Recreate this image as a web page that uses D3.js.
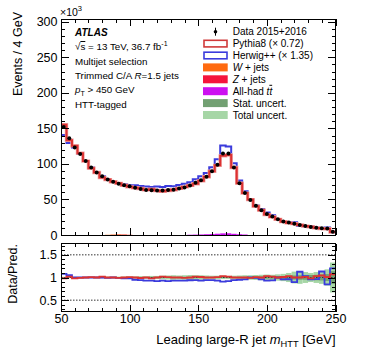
<!DOCTYPE html>
<html>
<head>
<meta charset="utf-8">
<script src="https://cdn.jsdelivr.net/npm/d3@7"></script>
<style>
  body { margin: 0; background: #fff; }
  svg text { font-family: "Liberation Sans", Arial, Helvetica, sans-serif; fill: #000; }
</style>
</head>
<body>
<svg id="chart" width="374" height="359"></svg>
<script>
// bins of 4 GeV from 50 to 250
const binLow = d3.range(50, 250, 4);

// events / 4 GeV, in units of 10^3
const dataVals = [152, 136, 123, 114, 104, 95, 88, 82.6, 78, 75, 72, 70, 68.5, 66.5, 64.7, 63.5, 63, 62.7, 62.7, 63.3,
  63.7, 65.6, 67, 69.8, 73.6, 77, 82, 89.7, 99, 114.7, 114.7, 95, 73, 59, 49.3, 41, 35, 29.6, 26, 22,
  19, 17.5, 16, 14.2, 12.7, 11.3, 10.3, 9.4, 9, 4.5];
const pythiaVals = [155.1, 133.3, 125.5, 115.2, 104, 94.1, 88, 81, 78, 75, 72.7, 70, 67.8, 66.5, 65.4, 63.5, 64.3, 62.7, 61.5, 62.7,
  63.7, 65.6, 67.7, 69.8, 72.2, 76.2, 82, 89.7, 98, 111.4, 112.5, 95, 73, 59, 49.8, 40.6, 35, 28.7, 25.5, 22,
  18.8, 17, 16, 14.2, 12.5, 11.5, 10, 9, 8.9, 4.2];
const herwigVals = [140.7, 129.5, 123, 114, 104, 95, 88, 82.6, 78.8, 75, 72.7, 71.4, 69.9, 70, 68.8, 68.3, 67.7, 68.2, 67.4, 68.8,
  68.5, 70.5, 72, 74.3, 78.3, 82.8, 87.2, 95.4, 106.5, 126, 124.7, 101, 76.8, 61.5, 49.3, 41.4, 36.5, 31.8, 27.7, 22,
  19.8, 18.2, 17.8, 12.6, 12.3, 11.8, 10.7, 8.3, 10.6, 3.75];
const wjetsVals = [0, 0, 0, 0, 0, 0, 0, 0, 0.3, 0.6, 0.8, 0.5, 0.2, 0, 0, 0, 0, 0, 0, 0,
  0, 0, 0, 0, 0, 0, 0, 0, 0, 0, 0, 0, 0, 0, 0, 0, 0, 0, 0, 0,
  0, 0, 0, 0, 0, 0, 0, 0, 0, 0];
const zjetsVals = [0, 0, 0, 0, 0, 0, 0, 0, 0, 0.1, 0.3, 0.4, 0.2, 0, 0, 0, 0, 0, 0, 0,
  0, 0, 0, 0, 0, 0, 0, 0, 0, 0, 0, 0, 0, 0, 0, 0, 0, 0, 0, 0,
  0, 0, 0, 0, 0, 0, 0, 0, 0, 0];
const ttbarVals = [0, 0, 0, 0, 0, 0, 0, 0, 0, 0, 0, 0, 0, 0, 0, 0, 0, 0, 0, 0,
  0, 0, 0, 0.4, 0.6, 0.8, 1.1, 1.4, 1.8, 2.3, 2.4, 1.7, 1.1, 0.7, 0, 0, 0, 0, 0, 0,
  0, 0, 0, 0, 0, 0, 0, 0, 0, 0];
// relative uncertainties shown in the ratio panel
const statUnc = [0.006, 0.006, 0.006, 0.006, 0.007, 0.007, 0.007, 0.008, 0.008, 0.008, 0.009, 0.009, 0.01, 0.01, 0.011, 0.011, 0.012, 0.012, 0.013, 0.013,
  0.014, 0.014, 0.015, 0.015, 0.015, 0.014, 0.013, 0.012, 0.011, 0.01, 0.01, 0.011, 0.013, 0.015, 0.017, 0.019, 0.021, 0.024, 0.026, 0.029,
  0.032, 0.035, 0.045, 0.05, 0.05, 0.055, 0.06, 0.065, 0.075, 0.14];
const totalUnc = [0.015, 0.015, 0.015, 0.015, 0.015, 0.015, 0.018, 0.018, 0.02, 0.02, 0.02, 0.022, 0.025, 0.025, 0.03, 0.03, 0.035, 0.035, 0.04, 0.045,
  0.05, 0.045, 0.05, 0.055, 0.05, 0.05, 0.045, 0.04, 0.04, 0.035, 0.035, 0.04, 0.045, 0.05, 0.05, 0.055, 0.06, 0.065, 0.06, 0.07,
  0.08, 0.1, 0.13, 0.14, 0.12, 0.1, 0.12, 0.14, 0.18, 0.33];

const xTicks = [50, 100, 150, 200, 250];
const yTicksMain = [0, 50, 100, 150, 200, 250, 300];
const yTicksRatio = [0.5, 1, 1.5];

const svg = d3.select("#chart");
const x = d3.scaleLinear().domain([50, 250]).range([61, 335.5]);
const y = d3.scaleLinear().domain([0, 304]).range([235, 19]);
const yr = d3.scaleLinear().domain([0.25, 1.75]).range([311.5, 243.5]);

const stepPath = (vals, ys) =>
  d3.line().curve(d3.curveStepAfter)
    .x((d) => x(d[0]))
    .y((d) => ys(d[1]))(vals.map((v, i) => [binLow[i], v]).concat([[250, vals[vals.length - 1]]]));

// ---- main panel: small backgrounds (stacked)
const bkg = binLow.map((b, i) => ({ b, w: wjetsVals[i], z: zjetsVals[i], t: ttbarVals[i] }));
const stack = d3.stack().keys(["w", "z", "t"])(bkg);
const bkgColors = { w: "#ff6a10", z: "#f5143c", t: "#cc10f0" };
svg.append("g").selectAll("g").data(stack).join("g")
  .attr("fill", (s) => bkgColors[s.key])
  .selectAll("rect").data((s) => s).join("rect")
  .attr("x", (d) => x(d.data.b))
  .attr("width", x(54) - x(50))
  .attr("y", (d) => y(d[1]))
  .attr("height", (d) => y(d[0]) - y(d[1]));

svg.append("path").attr("d", stepPath(herwigVals, y))
  .attr("fill", "none").attr("stroke", "#3b3bdc").attr("stroke-width", 2);
svg.append("path").attr("d", stepPath(pythiaVals, y))
  .attr("fill", "none").attr("stroke", "#f0a0a0").attr("stroke-width", 3.4);
svg.append("path").attr("d", stepPath(pythiaVals, y))
  .attr("fill", "none").attr("stroke", "#dc3232").attr("stroke-width", 2);

svg.append("g").selectAll("circle").data(dataVals).join("circle")
  .attr("cx", (d, i) => x(binLow[i] + 2))
  .attr("cy", (d) => y(d))
  .attr("r", 2)
  .attr("fill", "#000");

// ---- ratio panel
const ratioPy = dataVals.map((d, i) => d / pythiaVals[i]);
const ratioHw = dataVals.map((d, i) => d / herwigVals[i]);

svg.append("g").selectAll("rect").data(totalUnc).join("rect")
  .attr("x", (d, i) => x(binLow[i])).attr("width", x(54) - x(50))
  .attr("y", (d) => yr(1 + d)).attr("height", (d) => yr(1 - d) - yr(1 + d))
  .attr("fill", "#a6d6a6");
svg.append("g").selectAll("rect").data(statUnc).join("rect")
  .attr("x", (d, i) => x(binLow[i])).attr("width", x(54) - x(50))
  .attr("y", (d) => yr(1 + d)).attr("height", (d) => yr(1 - d) - yr(1 + d))
  .attr("fill", "#72a072");

svg.append("g").selectAll("line").data(yTicksRatio).join("line")
  .attr("x1", x(50)).attr("x2", x(250))
  .attr("y1", (d) => yr(d)).attr("y2", (d) => yr(d))
  .attr("stroke", "#333").attr("stroke-width", 1).attr("stroke-dasharray", "1.5,1.5");

svg.append("path").attr("d", stepPath(ratioHw, yr))
  .attr("fill", "none").attr("stroke", "#3b3bdc").attr("stroke-width", 1.8);
svg.append("path").attr("d", stepPath(ratioPy, yr))
  .attr("fill", "none").attr("stroke", "#dc3232").attr("stroke-width", 1.8);

// ---- axes and frames
function styleAxis(g, fs) {
  g.select(".domain").remove();
  g.attr("font-family", null).attr("font-size", fs);
  g.selectAll("line").attr("stroke", "#000").attr("shape-rendering", "crispEdges");
}
const minorX = d3.range(50, 251, 10);

// main panel
svg.append("g").attr("transform", "translate(61,0)")
  .call(d3.axisLeft(y).tickValues(yTicksMain).tickSize(-8).tickPadding(3.5).tickFormat(d3.format("d")))
  .call(styleAxis, 12.5);
svg.append("g").attr("transform", "translate(61,0)")
  .call(d3.axisLeft(y).tickValues(d3.range(0, 305, 10)).tickSize(-4).tickFormat(""))
  .call(styleAxis, 12.5);
svg.append("g").attr("transform", "translate(335.5,0)")
  .call(d3.axisRight(y).tickValues(yTicksMain).tickSize(-8).tickFormat(""))
  .call(styleAxis, 12.5);
svg.append("g").attr("transform", "translate(335.5,0)")
  .call(d3.axisRight(y).tickValues(d3.range(0, 305, 10)).tickSize(-4).tickFormat(""))
  .call(styleAxis, 12.5);
[[235, d3.axisBottom], [19, d3.axisTop]].forEach(([yy, ax]) => {
  svg.append("g").attr("transform", `translate(0,${yy})`)
    .call(ax(x).tickValues(xTicks).tickSize(-7).tickFormat(""))
    .call(styleAxis, 12.5);
  svg.append("g").attr("transform", `translate(0,${yy})`)
    .call(ax(x).tickValues(minorX).tickSize(-3.5).tickFormat(""))
    .call(styleAxis, 12.5);
});

// ratio panel
svg.append("g").attr("transform", "translate(61,0)")
  .call(d3.axisLeft(yr).tickValues(yTicksRatio).tickSize(-8).tickPadding(4).tickFormat((d) => String(d)))
  .call(styleAxis, 12.5);
svg.append("g").attr("transform", "translate(61,0)")
  .call(d3.axisLeft(yr).tickValues(d3.range(0.3, 1.75, 0.1)).tickSize(-4).tickFormat(""))
  .call(styleAxis, 12.5);
svg.append("g").attr("transform", "translate(335.5,0)")
  .call(d3.axisRight(yr).tickValues(yTicksRatio).tickSize(-8).tickFormat(""))
  .call(styleAxis, 12.5);
svg.append("g").attr("transform", "translate(335.5,0)")
  .call(d3.axisRight(yr).tickValues(d3.range(0.3, 1.75, 0.1)).tickSize(-4).tickFormat(""))
  .call(styleAxis, 12.5);
svg.append("g").attr("transform", "translate(0,311.5)")
  .call(d3.axisBottom(x).tickValues(xTicks).tickSize(-7).tickPadding(3).tickFormat(d3.format("d")))
  .call(styleAxis, 12.5);
svg.append("g").attr("transform", "translate(0,311.5)")
  .call(d3.axisBottom(x).tickValues(minorX).tickSize(-3.5).tickFormat(""))
  .call(styleAxis, 12.5);
svg.append("g").attr("transform", "translate(0,243.5)")
  .call(d3.axisTop(x).tickValues(xTicks).tickSize(-7).tickFormat(""))
  .call(styleAxis, 12.5);
svg.append("g").attr("transform", "translate(0,243.5)")
  .call(d3.axisTop(x).tickValues(minorX).tickSize(-3.5).tickFormat(""))
  .call(styleAxis, 12.5);

[[y(304), y(0)], [yr(1.75), yr(0.25)]].forEach(([t, b]) => {
  svg.append("rect").attr("x", 61).attr("y", t).attr("width", 335.5 - 61).attr("height", b - t)
    .attr("fill", "none").attr("stroke", "#000").attr("shape-rendering", "crispEdges");
});

// ---- axis titles
svg.append("text").attr("transform", "translate(21.5,12) rotate(-90)")
  .attr("text-anchor", "end").attr("font-size", 12.5).text("Events / 4 GeV");
svg.append("text").attr("transform", "translate(16.7,244) rotate(-90)")
  .attr("text-anchor", "end").attr("font-size", 12.5).text("Data/Pred.");
const xt = svg.append("text").attr("x", 335.5).attr("y", 344).attr("text-anchor", "end").attr("font-size", 13);
xt.append("tspan").text("Leading large-R jet ");
xt.append("tspan").attr("font-style", "italic").text("m");
xt.append("tspan").attr("font-size", 9.3).attr("dy", 3).text("HTT");
xt.append("tspan").attr("dy", -3).text(" [GeV]");

const e3 = svg.append("text").attr("x", 60).attr("y", 15.5).attr("font-size", 10.5);
e3.append("tspan").text("×10");
e3.append("tspan").attr("font-size", 7.5).attr("dy", -4.5).text("3");

// ---- ATLAS labels
const lx = 75;
const fsL = 9.8;
svg.append("text").attr("x", lx).attr("y", 36).attr("font-size", 10)
  .attr("font-weight", "bold").attr("font-style", "italic").text("ATLAS");
const t1 = svg.append("text").attr("x", lx).attr("y", 50).attr("font-size", fsL);
t1.append("tspan").text("√");
t1.append("tspan").attr("text-decoration", "overline").text("s");
t1.append("tspan").text(" = 13 TeV, 36.7 fb");
t1.append("tspan").attr("font-size", 7).attr("dy", -4).text("-1");
svg.append("text").attr("x", lx).attr("y", 64.5).attr("font-size", fsL).text("Multijet selection");
const t3 = svg.append("text").attr("x", lx).attr("y", 79).attr("font-size", fsL);
t3.append("tspan").text("Trimmed C/A ");
t3.append("tspan").attr("font-style", "italic").text("R");
t3.append("tspan").text("=1.5 jets");
const t4 = svg.append("text").attr("x", lx).attr("y", 93).attr("font-size", fsL);
t4.append("tspan").attr("font-style", "italic").text("p");
t4.append("tspan").attr("font-size", 7).attr("dy", 2.5).text("T");
t4.append("tspan").attr("dy", -2.5).text(" > 450 GeV");
svg.append("text").attr("x", lx).attr("y", 107.5).attr("font-size", fsL).text("HTT-tagged");

// ---- legend
const legendRows = [
  { type: "data" },
  { type: "line", color: "#d03a3a" },
  { type: "line", color: "#3b3bdc" },
  { type: "fill", color: "#ff6a10" },
  { type: "fill", color: "#f5143c" },
  { type: "fill", color: "#cc10f0" },
  { type: "fill", color: "#72a072" },
  { type: "fill", color: "#a6d6a6" },
];
const lg = svg.append("g");
legendRows.forEach((r, k) => {
  const cy = 31.7 + k * 11.9;
  if (r.type === "data") {
    lg.append("line").attr("x1", 215.5).attr("x2", 215.5).attr("y1", cy - 4).attr("y2", cy + 4)
      .attr("stroke", "#000");
    lg.append("circle").attr("cx", 215.5).attr("cy", cy).attr("r", 1.8).attr("fill", "#000");
  } else if (r.type === "line") {
    lg.append("rect").attr("x", 204).attr("y", cy - 3.3).attr("width", 23).attr("height", 6.6)
      .attr("fill", "#fff").attr("stroke", r.color).attr("stroke-width", 1.6);
  } else {
    lg.append("rect").attr("x", 203).attr("y", cy - 4).attr("width", 24.7).attr("height", 8)
      .attr("fill", r.color);
  }
});
const lt = (k) => lg.append("text").attr("x", 232.7).attr("y", 31.7 + k * 11.9 + 3.6).attr("font-size", 10);
lt(0).text("Data 2015+2016");
lt(1).text("Pythia8 (× 0.72)");
lt(2).text("Herwig++ (× 1.35)");
const lw = lt(3); lw.append("tspan").attr("font-style", "italic").text("W"); lw.append("tspan").text(" + jets");
const lz = lt(4); lz.append("tspan").attr("font-style", "italic").text("Z"); lz.append("tspan").text(" + jets");
const ltt = lt(5); ltt.append("tspan").text("All-had ");
ltt.append("tspan").attr("font-style", "italic").text("t");
ltt.append("tspan").attr("font-style", "italic").attr("text-decoration", "overline").text("t");
lt(6).text("Stat. uncert.");
lt(7).text("Total uncert.");
</script>
</body>
</html>
